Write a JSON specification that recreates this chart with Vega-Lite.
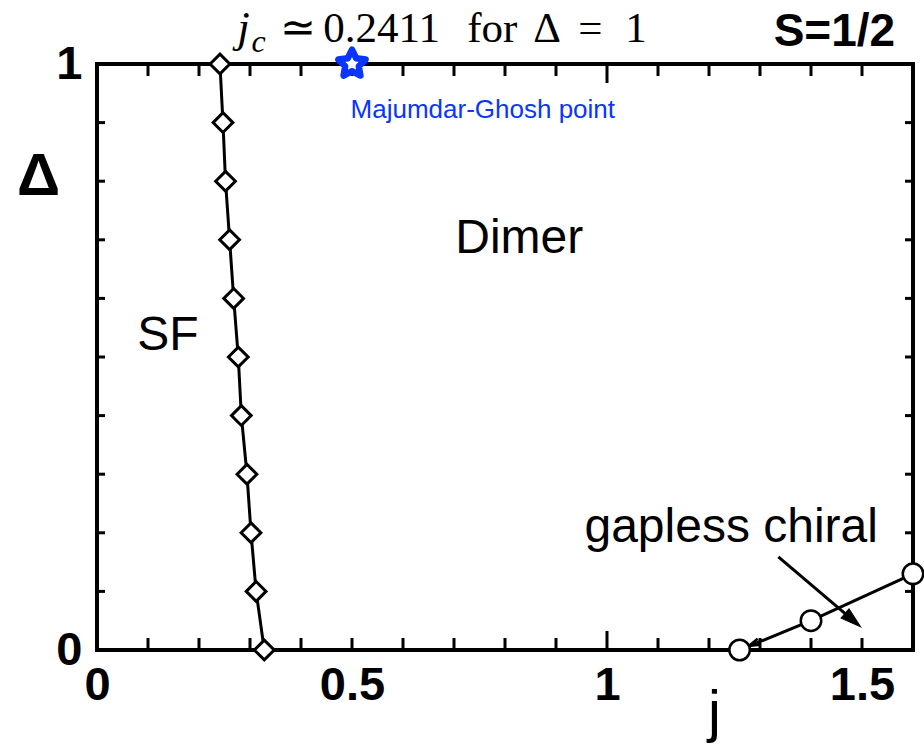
{
  "$schema": "https://vega.github.io/schema/vega-lite/v6.json",
  "width": 816,
  "height": 586,
  "autosize": {"type": "none"},
  "padding": {"left": 97, "top": 64, "right": 11, "bottom": 95},
  "background": "white",
  "config": {
    "view": {"stroke": "black", "strokeWidth": 4},
    "axis": {"domain": false, "grid": false, "ticks": false}
  },
  "datasets": {
    "sf": [
      {"j": 0.2411, "d": 1.0},
      {"j": 0.247, "d": 0.9},
      {"j": 0.252, "d": 0.8},
      {"j": 0.260, "d": 0.7},
      {"j": 0.268, "d": 0.6},
      {"j": 0.277, "d": 0.5},
      {"j": 0.283, "d": 0.4},
      {"j": 0.294, "d": 0.3},
      {"j": 0.302, "d": 0.2},
      {"j": 0.312, "d": 0.1},
      {"j": 0.328, "d": 0.0}
    ],
    "chiral": [
      {"j": 1.26, "d": 0.0},
      {"j": 1.40, "d": 0.05},
      {"j": 1.60, "d": 0.13}
    ],
    "jTicks": [
      {"j": 0.1}, {"j": 0.2}, {"j": 0.3}, {"j": 0.4}, {"j": 0.5},
      {"j": 0.6}, {"j": 0.7}, {"j": 0.8}, {"j": 0.9},
      {"j": 1.1}, {"j": 1.2}, {"j": 1.3}, {"j": 1.4}, {"j": 1.5}
    ],
    "jMajor": [{"j": 1.0}],
    "dTicks": [
      {"d": 0.1}, {"d": 0.2}, {"d": 0.3}, {"d": 0.4}, {"d": 0.5},
      {"d": 0.6}, {"d": 0.7}, {"d": 0.8}, {"d": 0.9}
    ],
    "mg": [{"j": 0.5, "d": 1.0}],
    "pointer": [{"j": 1.336, "d": 0.159, "j2": 1.467, "d2": 0.062}],
    "pointerHead": [{"j": 1.482, "d": 0.051}],
    "lineHead": [{"j": 1.288, "d": 0.0105}],
    "phases": [
      {"t": "Dimer", "j": 0.828, "d": 0.677},
      {"t": "SF", "j": 0.139, "d": 0.512},
      {"t": "gapless chiral", "j": 1.2435, "d": 0.185}
    ],
    "headline": [
      {"t": "≃", "j": 0.358, "d": 1.038},
      {"t": "0.2411", "j": 0.4437, "d": 1.038},
      {"t": "for", "j": 0.726, "d": 1.038},
      {"t": "Δ", "j": 0.8553, "d": 1.038},
      {"t": "=", "j": 0.9437, "d": 1.038},
      {"t": "1", "j": 1.0359, "d": 1.038}
    ],
    "jsym": [{"t": "j", "j": 0.275, "d": 1.038}],
    "csub": [{"t": "c", "j": 0.303, "d": 1.0205}],
    "spin": [{"t": "S=1/2", "j": 1.565, "d": 1.031}],
    "mgLabel": [{"t": "Majumdar-Ghosh point", "j": 0.7565, "d": 0.908}]
  },
  "layer": [
    {
      "data": {"name": "sf"},
      "mark": {"type": "line", "color": "black", "strokeWidth": 3},
      "encoding": {
        "x": {
          "field": "j", "type": "quantitative",
          "scale": {"domain": [0, 1.6], "nice": false, "zero": false},
          "axis": {
            "orient": "bottom",
            "values": [0, 0.5, 1, 1.5],
            "labelExpr": "format(datum.value, '~g')",
            "labelFont": "Liberation Sans", "labelFontSize": 47, "labelFontWeight": "bold",
            "labelColor": "black", "labelPadding": 12, "labelBaseline": "top",
            "labelFlush": false, "labelOverlap": false,
            "title": "j", "titleFont": "Liberation Sans", "titleFontSize": 58,
            "titleFontWeight": "normal", "titleColor": "black",
            "titleX": 617, "titleY": 80, "titleAlign": "center", "titleBaseline": "alphabetic"
          }
        },
        "y": {
          "field": "d", "type": "quantitative",
          "scale": {"domain": [0, 1], "nice": false, "zero": false},
          "axis": {
            "orient": "left",
            "values": [0, 1],
            "labelExpr": "format(datum.value, '~g')",
            "labelFont": "Liberation Sans", "labelFontSize": 47, "labelFontWeight": "bold",
            "labelColor": "black", "labelPadding": 15,
            "labelFlush": false, "labelOverlap": false,
            "title": "Δ", "titleFont": "Liberation Sans", "titleFontSize": 60,
            "titleFontWeight": "bold", "titleColor": "black", "titleAngle": 0,
            "titleX": -59, "titleY": 130, "titleAlign": "center", "titleBaseline": "alphabetic"
          }
        },
        "order": {"field": "d", "sort": "descending"}
      }
    },
    {
      "data": {"name": "jTicks"},
      "mark": {"type": "rule", "color": "black", "strokeWidth": 3},
      "encoding": {
        "x": {"field": "j", "type": "quantitative"},
        "y": {"datum": 0, "type": "quantitative"},
        "y2": {"datum": 0.0205}
      }
    },
    {
      "data": {"name": "jTicks"},
      "mark": {"type": "rule", "color": "black", "strokeWidth": 3},
      "encoding": {
        "x": {"field": "j", "type": "quantitative"},
        "y": {"datum": 1, "type": "quantitative"},
        "y2": {"datum": 0.9795}
      }
    },
    {
      "data": {"name": "jMajor"},
      "mark": {"type": "rule", "color": "black", "strokeWidth": 3},
      "encoding": {
        "x": {"field": "j", "type": "quantitative"},
        "y": {"datum": 0, "type": "quantitative"},
        "y2": {"datum": 0.0324}
      }
    },
    {
      "data": {"name": "jMajor"},
      "mark": {"type": "rule", "color": "black", "strokeWidth": 3},
      "encoding": {
        "x": {"field": "j", "type": "quantitative"},
        "y": {"datum": 1, "type": "quantitative"},
        "y2": {"datum": 0.9676}
      }
    },
    {
      "data": {"name": "dTicks"},
      "mark": {"type": "rule", "color": "black", "strokeWidth": 3},
      "encoding": {
        "x": {"datum": 0, "type": "quantitative"},
        "x2": {"datum": 0.0157},
        "y": {"field": "d", "type": "quantitative"}
      }
    },
    {
      "data": {"name": "dTicks"},
      "mark": {"type": "rule", "color": "black", "strokeWidth": 3},
      "encoding": {
        "x": {"datum": 1.6, "type": "quantitative"},
        "x2": {"datum": 1.5843},
        "y": {"field": "d", "type": "quantitative"}
      }
    },
    {
      "data": {"name": "sf"},
      "mark": {"type": "point", "shape": "diamond", "size": 390, "filled": true, "fill": "white", "stroke": "black", "strokeWidth": 3, "opacity": 1},
      "encoding": {
        "x": {"field": "j", "type": "quantitative"},
        "y": {"field": "d", "type": "quantitative"}
      }
    },
    {
      "data": {"name": "chiral"},
      "mark": {"type": "line", "color": "black", "strokeWidth": 3},
      "encoding": {
        "x": {"field": "j", "type": "quantitative"},
        "y": {"field": "d", "type": "quantitative"}
      }
    },
    {
      "data": {"name": "lineHead"},
      "mark": {"type": "point", "shape": "M-0.6,1L0,-1L0.6,1", "size": 120, "filled": false, "fill": null, "stroke": "black", "strokeWidth": 2.5, "angle": 247.6, "opacity": 1},
      "encoding": {
        "x": {"field": "j", "type": "quantitative"},
        "y": {"field": "d", "type": "quantitative"}
      }
    },
    {
      "data": {"name": "chiral"},
      "mark": {"type": "point", "shape": "circle", "size": 420, "filled": true, "fill": "white", "stroke": "black", "strokeWidth": 2.5, "opacity": 1},
      "encoding": {
        "x": {"field": "j", "type": "quantitative"},
        "y": {"field": "d", "type": "quantitative"}
      }
    },
    {
      "data": {"name": "pointer"},
      "mark": {"type": "rule", "color": "black", "strokeWidth": 3},
      "encoding": {
        "x": {"field": "j", "type": "quantitative"},
        "y": {"field": "d", "type": "quantitative"},
        "x2": {"field": "j2"},
        "y2": {"field": "d2"}
      }
    },
    {
      "data": {"name": "pointerHead"},
      "mark": {"type": "point", "shape": "M0,-1L0.6,1L-0.6,1Z", "size": 420, "filled": true, "fill": "black", "stroke": "black", "strokeWidth": 1, "angle": 130.5, "opacity": 1},
      "encoding": {
        "x": {"field": "j", "type": "quantitative"},
        "y": {"field": "d", "type": "quantitative"}
      }
    },
    {
      "data": {"name": "mg"},
      "mark": {"type": "point", "shape": "M0,-1L0.294,-0.405L0.951,-0.309L0.476,0.155L0.588,0.809L0,0.5L-0.588,0.809L-0.476,0.155L-0.951,-0.309L-0.294,-0.405Z", "size": 820, "filled": true, "fill": "white", "stroke": "#0a35ff", "strokeWidth": 6.5, "strokeJoin": "round", "opacity": 1},
      "encoding": {
        "x": {"field": "j", "type": "quantitative"},
        "y": {"field": "d", "type": "quantitative"}
      }
    },
    {
      "data": {"name": "phases"},
      "mark": {"type": "text", "font": "Liberation Sans", "fontSize": 48, "color": "black", "align": "center", "baseline": "alphabetic"},
      "encoding": {
        "x": {"field": "j", "type": "quantitative"},
        "y": {"field": "d", "type": "quantitative"},
        "text": {"field": "t"}
      }
    },
    {
      "data": {"name": "mgLabel"},
      "mark": {"type": "text", "font": "Liberation Sans", "fontSize": 26, "color": "#0a35ff", "align": "center", "baseline": "alphabetic"},
      "encoding": {
        "x": {"field": "j", "type": "quantitative"},
        "y": {"field": "d", "type": "quantitative"},
        "text": {"field": "t"}
      }
    },
    {
      "data": {"name": "spin"},
      "mark": {"type": "text", "font": "Liberation Sans", "fontSize": 46, "fontWeight": "bold", "color": "black", "align": "right", "baseline": "alphabetic"},
      "encoding": {
        "x": {"field": "j", "type": "quantitative"},
        "y": {"field": "d", "type": "quantitative"},
        "text": {"field": "t"}
      }
    },
    {
      "data": {"name": "headline"},
      "mark": {"type": "text", "font": "Liberation Serif", "fontSize": 43, "color": "black", "align": "left", "baseline": "alphabetic"},
      "encoding": {
        "x": {"field": "j", "type": "quantitative"},
        "y": {"field": "d", "type": "quantitative"},
        "text": {"field": "t"}
      }
    },
    {
      "data": {"name": "jsym"},
      "mark": {"type": "text", "font": "Liberation Serif", "fontSize": 45, "fontStyle": "italic", "color": "black", "align": "left", "baseline": "alphabetic"},
      "encoding": {
        "x": {"field": "j", "type": "quantitative"},
        "y": {"field": "d", "type": "quantitative"},
        "text": {"field": "t"}
      }
    },
    {
      "data": {"name": "csub"},
      "mark": {"type": "text", "font": "Liberation Serif", "fontSize": 32, "fontStyle": "italic", "color": "black", "align": "left", "baseline": "alphabetic"},
      "encoding": {
        "x": {"field": "j", "type": "quantitative"},
        "y": {"field": "d", "type": "quantitative"},
        "text": {"field": "t"}
      }
    }
  ]
}
